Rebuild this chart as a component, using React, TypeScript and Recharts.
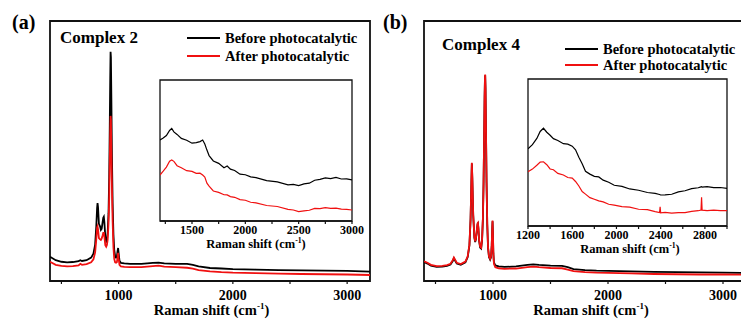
import React from 'react';
import { LineChart, Line, XAxis, YAxis, Legend, ReferenceArea } from 'recharts';

const FONT = '"Liberation Serif", "Times New Roman", serif';
const BLACK = '#000000';
const RED = '#f01010';

// Complex 2, full spectrum
const shiftA = [400, 450, 500, 550, 600, 650, 665, 680, 720, 760, 780, 795, 805, 812, 816, 820, 828, 838, 845, 852, 860, 866, 871, 876, 884, 892, 898, 905, 912, 918, 923, 927, 930, 933, 937, 942, 948, 955, 962, 970, 978, 985, 991, 996, 1001, 1008, 1020, 1050, 1100, 1200, 1300, 1350, 1400, 1500, 1600, 1650, 1700, 1800, 1900, 2000, 2200, 2400, 2600, 2800, 3000, 3200];
const beforeA = [9.3, 8.0, 7.4, 7.2, 7.3, 7.6, 8.0, 7.7, 8.0, 9.0, 10.5, 14, 21, 28, 30, 28.5, 22, 21, 19.6, 20, 22.5, 24.3, 24.7, 22.5, 17, 15.1, 15.5, 19, 26, 40, 60, 78, 88.2, 86, 70, 48, 30, 18, 12, 9.5, 9, 9.3, 11.5, 12.7, 10.5, 7.8, 7.0, 6.8, 6.6, 6.6, 7.0, 7.1, 6.8, 6.6, 6.6, 6.2, 5.6, 5.0, 4.8, 4.6, 4.4, 4.2, 4.1, 4.0, 3.9, 3.6];
const afterA = [7.4, 6.2, 5.8, 5.6, 5.7, 6.0, 6.6, 6.2, 6.5, 7.2, 8.3, 11, 16, 20.5, 21, 20, 16.5, 16, 15.8, 16.3, 17.5, 18.5, 18.5, 17, 13.8, 13.2, 13.8, 16, 22, 32, 46, 58, 63.5, 62, 50, 36, 23, 13, 8.5, 7.2, 7, 7.2, 9, 10.8, 8.5, 6.2, 5.6, 5.4, 5.3, 5.3, 5.7, 5.9, 5.5, 5.3, 5.1, 4.8, 4.2, 3.7, 3.4, 3.2, 3.0, 2.8, 2.7, 2.6, 2.5, 2.3];

// Complex 2, inset
const insetShiftA = [1200, 1230, 1260, 1290, 1310, 1330, 1360, 1400, 1450, 1500, 1540, 1575, 1600, 1620, 1640, 1660, 1700, 1750, 1800, 1830, 1860, 1900, 1950, 2000, 2050, 2100, 2200, 2300, 2400, 2450, 2500, 2550, 2600, 2650, 2700, 2750, 2800, 2850, 2900, 2950, 3000];
const insetBeforeA = [57.4, 58.8, 60.6, 64.2, 65.7, 63.2, 61.4, 58.6, 57.3, 55.2, 55.6, 56.3, 57.4, 54.6, 50.3, 46.4, 42.6, 40.9, 37.8, 39.0, 36.8, 35.8, 33.2, 32.8, 31.3, 30.8, 28.6, 27.7, 25.6, 26.0, 25.1, 26.3, 26.8, 28.9, 29.5, 30.6, 30.1, 30.9, 29.8, 29.9, 29.1];
const insetAfterA = [32.6, 35.3, 38.2, 42.4, 43.3, 42.3, 39.2, 37.8, 35.7, 35.2, 33.8, 33.9, 32.6, 31.2, 26.8, 24.7, 21.3, 20.3, 18.6, 18.5, 17.3, 16.8, 15.2, 14.7, 13.3, 12.9, 11.0, 10.3, 8.3, 7.8, 6.7, 7.2, 7.6, 8.9, 8.8, 9.5, 9.0, 9.1, 8.4, 8.2, 7.8];

// Complex 4, full spectrum
const shiftB = [400, 430, 460, 510, 560, 600, 630, 650, 660, 670, 685, 720, 760, 780, 795, 805, 812, 816, 820, 828, 838, 845, 852, 860, 866, 869, 873, 880, 888, 897, 905, 912, 918, 923, 927, 930, 932, 935, 939, 944, 950, 957, 965, 975, 983, 989, 993, 996, 999, 1003, 1008, 1020, 1050, 1100, 1200, 1300, 1350, 1400, 1500, 1600, 1650, 1700, 1800, 1900, 2000, 2200, 2400, 2600, 2800, 3000, 3200];
const beforeB = [7.3, 6.7, 5.9, 5.4, 5.5, 5.8, 6.3, 7.7, 8.7, 7.9, 6.7, 6.2, 7.2, 9.2, 13.7, 23.7, 37.7, 45.2, 39.7, 25.3, 16.7, 15.0, 16.2, 19.7, 21.9, 22.1, 20.2, 15.2, 12.9, 12.5, 15.7, 23.7, 37.7, 55.7, 70.7, 77.7, 79.1, 73.7, 57.7, 37.7, 21.7, 12.7, 9.2, 8.2, 9.2, 13.7, 19.7, 23.0, 18.7, 10.7, 7.2, 6.0, 5.6, 5.4, 5.6, 6.2, 6.4, 6.2, 5.9, 5.8, 5.3, 4.6, 4.2, 4.0, 3.9, 3.7, 3.5, 3.4, 3.3, 3.2, 3.1];
const afterB = [7.6, 7.0, 6.2, 5.7, 5.8, 6.1, 6.6, 8.0, 9.0, 8.2, 7.0, 6.5, 7.5, 9.5, 14, 24, 38, 45.5, 40, 25.6, 17, 15.3, 16.5, 20, 22.2, 22.4, 20.5, 15.5, 13.2, 12.8, 16, 24, 38, 56, 71, 78, 79.4, 74, 58, 38, 22, 13, 9.5, 8.5, 9.5, 14, 20, 23.3, 19, 11, 6.6, 5.3, 4.9, 4.7, 4.8, 5.3, 5.5, 5.3, 5.0, 4.9, 4.4, 3.8, 3.4, 3.2, 3.1, 2.9, 2.7, 2.6, 2.5, 2.5, 2.4];

// Complex 4, inset
const insetShiftB = [1200, 1240, 1280, 1310, 1340, 1370, 1400, 1430, 1470, 1520, 1560, 1600, 1630, 1660, 1690, 1720, 1760, 1800, 1840, 1880, 1930, 1980, 2050, 2120, 2200, 2280, 2350, 2390, 2395, 2400, 2440, 2500, 2560, 2620, 2680, 2740, 2765, 2770, 2775, 2820, 2880, 2940, 3000];
const insetBeforeB = [52.5, 55.3, 59.6, 64.3, 66.5, 63.8, 61.7, 59.4, 58.2, 56.0, 55.7, 54.3, 51.8, 46.8, 42.3, 37.2, 35.3, 33.8, 33.4, 31.2, 29.8, 27.7, 27.0, 25.2, 24.3, 22.8, 22.2, 21.4, 21.3, 21.1, 21.2, 21.6, 23.2, 24.0, 25.4, 26.0, 26.6, 26.7, 26.5, 26.8, 26.1, 26.2, 25.6];
const insetAfterB = [36.9, 38.7, 41.3, 43.5, 43.7, 41.7, 38.8, 38.3, 35.8, 34.7, 33.0, 32.6, 30.3, 27.2, 23.4, 21.7, 19.3, 18.2, 17.1, 16.4, 14.8, 14.2, 13.2, 12.8, 11.4, 11.1, 9.8, 9.2, 13.1, 9.0, 9.2, 8.7, 9.1, 9.1, 10.0, 10.4, 10.8, 19.5, 10.8, 10.5, 10.8, 10.4, 10.4];

const mainTicks = [500, 1000, 1500, 2000, 2500, 3000];
const insetTicksA = [1250, 1500, 1750, 2000, 2250, 2500, 2750, 3000];
const insetTicksB = [1200, 1400, 1600, 1800, 2000, 2200, 2400, 2600, 2800, 3000];

const rows = (xs: number[], before: number[], after: number[]) =>
  xs.map((x, i) => ({ x, before: before[i], after: after[i] }));

const makeLegend = (rowH: number) => ({ payload }: any) => {
  const items = [...(payload || [])].sort((a: any, b: any) => (a.dataKey === 'before' ? 0 : 1) - (b.dataKey === 'before' ? 0 : 1));
  return (
    <div style={{ fontFamily: FONT, fontWeight: 700, fontSize: 14.5, color: '#000' }}>
      {items.map((p: any) => (
        <div key={p.value} style={{ display: 'flex', alignItems: 'center', height: rowH, lineHeight: `${rowH}px`, whiteSpace: 'nowrap' }}>
          <span style={{ display: 'inline-block', width: 33, height: 2, background: p.color }} />
          <span style={{ marginLeft: 5 }}>{p.value}</span>
        </div>
      ))}
    </div>
  );
};

interface PanelProps {
  data: { x: number; before: number; after: number }[];
  left: number;
  top: number;
  width: number;
  height: number;
  margin: { top: number; right: number; bottom: number; left: number };
  domain: [number, number];
  ticks: number[];
  labelEvery: number;
  labelFrom: number;
  labelTo: number;
  fontSize: number;
  strokeWidth: number;
  frameWidth: number;
  tickGap: number;
  legend?: { left: number; top: number; rowH: number };
}

const Panel = (p: PanelProps) => (
  <div style={{ position: 'absolute', left: p.left, top: p.top }}>
    <LineChart width={p.width} height={p.height} data={p.data} margin={p.margin}>
      <XAxis
        dataKey="x"
        type="number"
        domain={p.domain}
        ticks={p.ticks}
        allowDataOverflow
        height={30}
        axisLine={{ stroke: '#111', strokeWidth: p.frameWidth }}
        tickLine={{ stroke: '#111', strokeWidth: 1.2 }}
        tickSize={3}
        tickMargin={p.tickGap}
        interval={0}
        tick={{ fill: '#000', fontSize: p.fontSize, fontWeight: 700, fontFamily: FONT }}
        tickFormatter={(v: number) =>
          v >= p.labelFrom && v <= p.labelTo && (v - p.labelFrom) % p.labelEvery === 0 ? String(v) : ''
        }
      />
      <YAxis type="number" domain={[0, 100]} width={0} hide />
      <ReferenceArea
        x1={p.domain[0]}
        x2={p.domain[1]}
        y1={0}
        y2={100}
        fill="none"
        stroke="#111"
        strokeWidth={p.frameWidth}
        ifOverflow="visible"
      />
      <Line dataKey="before" name="Before photocatalytic" stroke={BLACK} strokeWidth={p.strokeWidth} dot={false} isAnimationActive={false} />
      <Line dataKey="after" name="After photocatalytic" stroke={RED} strokeWidth={p.strokeWidth} dot={false} isAnimationActive={false} />
      {p.legend && (
        <Legend
          layout="vertical"
          align="center"
          verticalAlign="middle"
          content={makeLegend(p.legend.rowH)}
          wrapperStyle={{ left: p.legend.left, top: p.legend.top, width: 'auto' }}
        />
      )}
    </LineChart>
  </div>
);

const Title = ({ x, y, size }: { x: number; y: number; size: number }) => (
  <text x={x} y={y} textAnchor="middle" fontSize={size} fontWeight={700} fontFamily={FONT} fill="#000">
    Raman shift (cm
    <tspan dy={-size * 0.38} fontSize={size * 0.62}>-1</tspan>
    <tspan dy={size * 0.38}>)</tspan>
  </text>
);

export default function App() {
  return (
    <div style={{ position: 'absolute', left: 0, top: 0, width: 741, height: 323, overflow: 'hidden', background: '#fff' }}>
      <Panel
        data={rows(shiftA, beforeA, afterA)}
        left={0} top={0} width={380} height={323}
        margin={{ top: 21, right: 10, bottom: 12, left: 50 }}
        domain={[400, 3200]} ticks={mainTicks}
        labelEvery={1000} labelFrom={1000} labelTo={3000}
        fontSize={14} strokeWidth={1.8} frameWidth={1.8} tickGap={6}
        legend={{ left: 187, top: 28.5, rowH: 18 }}
      />
      <Panel
        data={rows(shiftB, beforeB, afterB)}
        left={374} top={0} width={382} height={323}
        margin={{ top: 21, right: 10, bottom: 12, left: 50 }}
        domain={[400, 3200]} ticks={mainTicks}
        labelEvery={1000} labelFrom={1000} labelTo={3000}
        fontSize={14} strokeWidth={1.8} frameWidth={1.8} tickGap={6}
        legend={{ left: 191, top: 41, rowH: 16 }}
      />
      <Panel
        data={rows(insetShiftA, insetBeforeA, insetAfterA)}
        left={120} top={60} width={250} height={200}
        margin={{ top: 20, right: 18, bottom: 9, left: 40 }}
        domain={[1200, 3000]} ticks={insetTicksA}
        labelEvery={500} labelFrom={1500} labelTo={3000}
        fontSize={12} strokeWidth={1.2} frameWidth={1.3} tickGap={1.5}
      />
      <Panel
        data={rows(insetShiftB, insetBeforeB, insetAfterB)}
        left={490} top={60} width={250} height={200}
        margin={{ top: 19, right: 13, bottom: 4, left: 38 }}
        domain={[1200, 3000]} ticks={insetTicksB}
        labelEvery={400} labelFrom={1200} labelTo={2800}
        fontSize={12} strokeWidth={1.2} frameWidth={1.3} tickGap={1.5}
      />
      <svg width={741} height={323} style={{ position: 'absolute', left: 0, top: 0, pointerEvents: 'none' }}>
        <text x={12} y={29} fontSize={20} fontWeight={700} fontFamily={FONT}>(a)</text>
        <text x={383} y={29} fontSize={20} fontWeight={700} fontFamily={FONT}>(b)</text>
        <text x={60} y={43} fontSize={17} fontWeight={700} fontFamily={FONT}>Complex 2</text>
        <text x={442} y={50} fontSize={17} fontWeight={700} fontFamily={FONT}>Complex 4</text>
        <Title x={211.5} y={315} size={14.5} />
        <Title x={591} y={315} size={14.5} />
        <Title x={256} y={248} size={12.5} />
        <Title x={630} y={253} size={12.5} />
      </svg>
    </div>
  );
}
